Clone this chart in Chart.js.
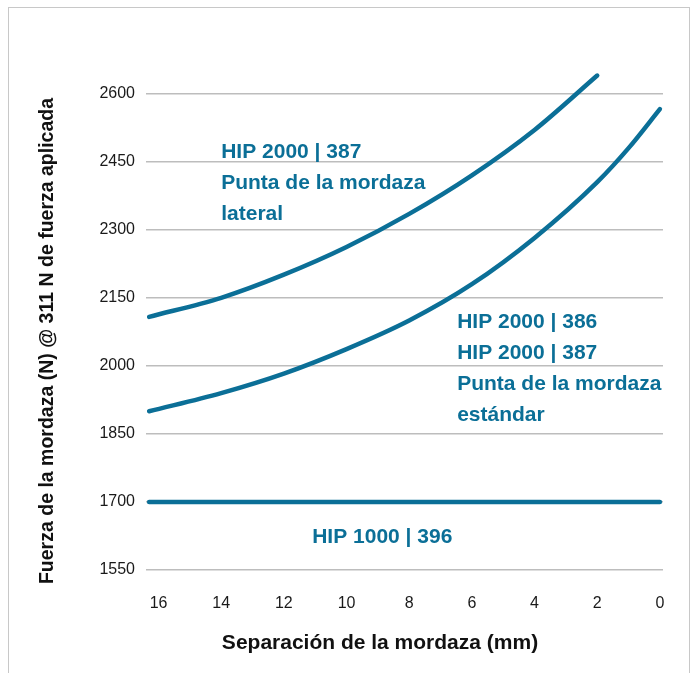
<!DOCTYPE html>
<html>
<head>
<meta charset="utf-8">
<script src="https://cdn.jsdelivr.net/npm/chart.js@4.4.1/dist/chart.umd.min.js"></script>
<style>
  html, body { margin: 0; padding: 0; background: #fff; }
  #wrap { position: relative; width: 698px; height: 673px; overflow: hidden; }
  #marco { position: absolute; left: 8px; top: 7px; width: 680px; height: 700px;
           border: 1.5px solid #c8c8c8; border-bottom: none; pointer-events: none; }
  canvas { position: absolute; left: 0; top: 0; }
</style>
</head>
<body>
<div id="wrap">
  <canvas id="grafico" width="698" height="673"></canvas>
  <div id="marco"></div>
</div>
<script>
// Separación de la mordaza (mm)
var separacion = [16.3, 14, 12, 10, 8, 6, 4, 2, 1, 0];
// Fuerza (N) por modelo
var hip2000Lateral  = [2108, 2150, 2201, 2262, 2335, 2420, 2520, 2640, null, null];
var hip2000Estandar = [1900, 1940, 1983, 2037, 2100, 2180, 2282, 2405, 2480, 2566];
var hip1000         = [1700, 1700, 1700, 1700, 1700, 1700, 1700, 1700, 1700, 1700];
var ticksY = [1550, 1700, 1850, 2000, 2150, 2300, 2450, 2600];
var ticksX = [16, 14, 12, 10, 8, 6, 4, 2, 0];

var azul = '#0b6f97';
var fuente = '"Liberation Sans", Arial, Helvetica, sans-serif';

function puntos(valores) {
    var res = [];
    for (var i = 0; i < separacion.length; i++) {
        if (valores[i] !== null) res.push({ x: separacion[i], y: valores[i] });
    }
    return res;
}

function serie(valores) {
    return {
        data: puntos(valores),
        borderColor: azul,
        borderWidth: 4.5,
        borderCapStyle: 'round',
        pointRadius: 0,
        cubicInterpolationMode: 'monotone',
        clip: false,
        fill: false
    };
}

// Etiquetas dentro del gráfico y títulos de ejes
var textos = {
    id: 'textos',
    afterDatasetsDraw: function(chart) {
        var ctx = chart.ctx;
        var sx = chart.scales.x, sy = chart.scales.y;
        ctx.save();
        ctx.fillStyle = azul;
        ctx.font = 'bold 21px ' + fuente;
        ctx.textBaseline = 'middle';
        ctx.textAlign = 'left';
        var x1 = sx.getPixelForValue(14), y1 = sy.getPixelForValue(2472);
        ['HIP 2000 | 387', 'Punta de la mordaza', 'lateral'].forEach(function(t, i) {
            ctx.fillText(t, x1, y1 + i * 31);
        });
        var x2 = sx.getPixelForValue(6.47), y2 = sy.getPixelForValue(2097);
        ['HIP 2000 | 386', 'HIP 2000 | 387', 'Punta de la mordaza', 'estándar'].forEach(function(t, i) {
            ctx.fillText(t, x2, y2 + i * 31);
        });
        ctx.textAlign = 'center';
        ctx.fillText('HIP 1000 | 396', sx.getPixelForValue(8.86), sy.getPixelForValue(1623));

        ctx.fillStyle = '#111';
        ctx.font = 'bold 21px ' + fuente;
        ctx.fillText('Separación de la mordaza (mm)', 380, 643);
        ctx.translate(48, 341);
        ctx.rotate(-Math.PI / 2);
        ctx.font = 'bold 19.5px ' + fuente;
        ctx.fillText('Fuerza de la mordaza (N) @ 311 N de fuerza aplicada', 0, 0);
        ctx.restore();
    }
};

var ctx = document.getElementById('grafico').getContext('2d');
var grafico = new Chart(ctx, {
    type: 'line',
    data: {
        datasets: [serie(hip2000Lateral), serie(hip2000Estandar), serie(hip1000)]
    },
    options: {
        responsive: false,
        animation: false,
        layout: { padding: { top: 71, right: 35, left: 0, bottom: 0 } },
        plugins: { legend: { display: false }, tooltip: { enabled: false } },
        scales: {
            x: {
                type: 'linear',
                reverse: true,
                min: -0.1,
                max: 16.4,
                afterBuildTicks: function(axis) {
                    axis.ticks = ticksX.map(function(v) { return { value: v }; });
                },
                afterFit: function(axis) { axis.height = 103; },
                grid: { display: false },
                border: { display: false },
                ticks: {
                    color: '#1a1a1a',
                    padding: 16,
                    maxRotation: 0,
                    font: { family: fuente, size: 16 },
                    callback: function(v) { return String(v); }
                }
            },
            y: {
                min: 1550,
                max: 2650,
                afterBuildTicks: function(axis) {
                    axis.ticks = ticksY.map(function(v) { return { value: v }; });
                },
                afterFit: function(axis) { axis.width = 146; },
                grid: { color: '#bdbdbd', lineWidth: 1.5, drawTicks: false },
                border: { display: false },
                ticks: {
                    color: '#1a1a1a',
                    padding: 11,
                    font: { family: fuente, size: 16 },
                    callback: function(v) { return String(v); }
                }
            }
        }
    },
    plugins: [textos]
});
</script>
</body>
</html>
